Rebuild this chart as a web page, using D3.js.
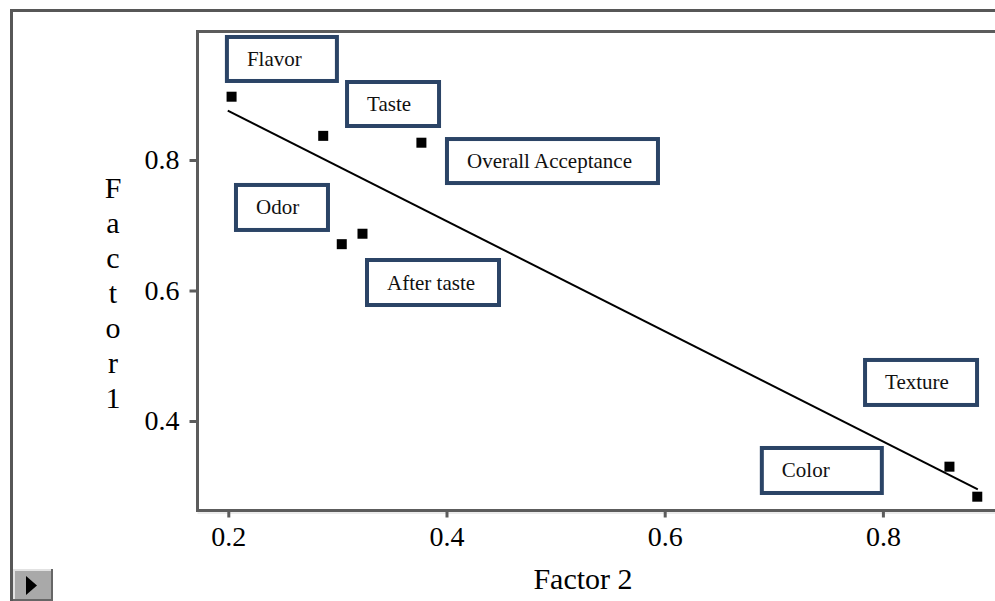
<!DOCTYPE html>
<html>
<head>
<meta charset="utf-8">
<script src="https://cdn.jsdelivr.net/npm/d3@7"></script>
<style>
  html, body { margin: 0; padding: 0; background: #fff; }
  svg { display: block; }
</style>
</head>
<body>
<svg id="chart" width="995" height="601"></svg>
<script>
// ---------- data ----------
const attributes = ["Flavor", "Taste", "Overall Acceptance", "Odor", "After taste", "Texture", "Color"];
const factor2 = [0.203, 0.287, 0.377, 0.304, 0.323, 0.861, 0.8865];
const factor1 = [0.897, 0.837, 0.8265, 0.671, 0.687, 0.330, 0.284];
const fitLineX = [0.1995, 0.887];
const fitLineY = [0.8756, 0.2953];
const xTicks = [0.2, 0.4, 0.6, 0.8];
const yTicks = [0.4, 0.6, 0.8];
const xTitle = "Factor 2";
const yTitle = "Factor 1";

// ---------- layout (label boxes, anchored top-left in data units) ----------
const boxLayout = [
  { left: 0.1969, top: 0.9916, w: 114, h: 48 },
  { left: 0.3070, top: 0.9226, w: 96,  h: 48 },
  { left: 0.3986, top: 0.8352, w: 215, h: 48 },
  { left: 0.2052, top: 0.7648, w: 96,  h: 49 },
  { left: 0.3253, top: 0.6498, w: 136, h: 49 },
  { left: 0.7818, top: 0.4966, w: 116, h: 49 },
  { left: 0.6872, top: 0.3617, w: 124, h: 49 }
];

const svg = d3.select("#chart");
const serif = "'Liberation Serif', 'Times New Roman', Times, serif";

const x = d3.scaleLinear().domain([0.2, 0.8]).range([228.3, 882.9]);
const y = d3.scaleLinear().domain([0.4, 0.8]).range([421, 160]);

// outer window frame
svg.append("rect")
  .attr("x", 11.5).attr("y", 10.5).attr("width", 1200).attr("height", 800)
  .attr("fill", "none").attr("stroke", "#575757").attr("stroke-width", 3);

// plot frame
const plotL = 197.5, plotT = 31.5, plotB = 510.5;
svg.append("rect")
  .attr("x", plotL).attr("y", plotT).attr("width", 1000).attr("height", plotB - plotT)
  .attr("fill", "none").attr("stroke", "#5c5c5c").attr("stroke-width", 3);
svg.append("line")
  .attr("x1", plotL).attr("x2", 1000).attr("y1", plotB + 2.5).attr("y2", plotB + 2.5)
  .attr("stroke", "#d8d8d8").attr("stroke-width", 1);

// axes
const xAxis = svg.append("g")
  .attr("transform", `translate(0,${plotB})`)
  .call(d3.axisBottom(x).tickValues(xTicks).tickFormat(d3.format(".1f")).tickSize(7).tickPadding(9));
xAxis.select(".domain").remove();
xAxis.selectAll(".tick line").attr("stroke", "#5c5c5c").attr("stroke-width", 3);
xAxis.selectAll(".tick text").attr("font-family", serif).attr("font-size", 28).attr("fill", "#000");

const yAxis = svg.append("g")
  .attr("transform", `translate(${plotL},0)`)
  .call(d3.axisLeft(y).tickValues(yTicks).tickFormat(d3.format(".1f")).tickSize(8).tickPadding(10));
yAxis.select(".domain").remove();
yAxis.selectAll(".tick line").attr("stroke", "#5c5c5c").attr("stroke-width", 3);
yAxis.selectAll(".tick text").attr("font-family", serif).attr("font-size", 28).attr("fill", "#000");

// axis titles
svg.append("text")
  .attr("x", 583).attr("y", 589)
  .attr("text-anchor", "middle")
  .attr("font-family", serif).attr("font-size", 30).attr("fill", "#000")
  .text(xTitle);

const yt = svg.append("text")
  .attr("text-anchor", "middle")
  .attr("font-family", serif).attr("font-size", 30).attr("fill", "#000");
yTitle.replace(/ /g, "").split("").forEach((ch, i) => {
  yt.append("tspan").attr("x", 113).attr("y", 198 + i * 35).text(ch);
});

// fit line
const line = d3.line().x(d => x(d[0])).y(d => y(d[1]));
svg.append("path")
  .datum(d3.zip(fitLineX, fitLineY))
  .attr("d", line)
  .attr("fill", "none").attr("stroke", "#000").attr("stroke-width", 2);

// points
const pts = d3.zip(factor2, factor1);
svg.selectAll("rect.pt").data(pts).enter().append("rect")
  .attr("class", "pt")
  .attr("x", d => x(d[0]) - 5).attr("y", d => y(d[1]) - 5)
  .attr("width", 10).attr("height", 10)
  .attr("fill", "#000");

// label boxes
const boxes = svg.selectAll("g.lbl").data(attributes).enter().append("g").attr("class", "lbl");
boxes.append("rect")
  .attr("x", (d, i) => x(boxLayout[i].left) + 2)
  .attr("y", (d, i) => y(boxLayout[i].top) + 2)
  .attr("width", (d, i) => boxLayout[i].w - 4)
  .attr("height", (d, i) => boxLayout[i].h - 4)
  .attr("fill", "#fff").attr("stroke", "#2b4466").attr("stroke-width", 4);
boxes.append("text")
  .attr("x", (d, i) => x(boxLayout[i].left) + 22)
  .attr("y", (d, i) => y(boxLayout[i].top) + boxLayout[i].h / 2 + 7)
  .attr("font-family", serif).attr("font-size", 21).attr("fill", "#111")
  .text(d => d);

// bottom-left button
const btn = svg.append("g");
btn.append("rect").attr("x", 13).attr("y", 569).attr("width", 40).attr("height", 32).attr("fill", "#666");
btn.append("rect").attr("x", 13).attr("y", 569).attr("width", 38).attr("height", 30).attr("fill", "#e2e2e2");
btn.append("rect").attr("x", 15).attr("y", 571).attr("width", 36).attr("height", 28).attr("fill", "#a9a9a9");
btn.append("path").attr("d", "M26,576 L37,585.5 L26,595 Z").attr("fill", "#000");
</script>
</body>
</html>
